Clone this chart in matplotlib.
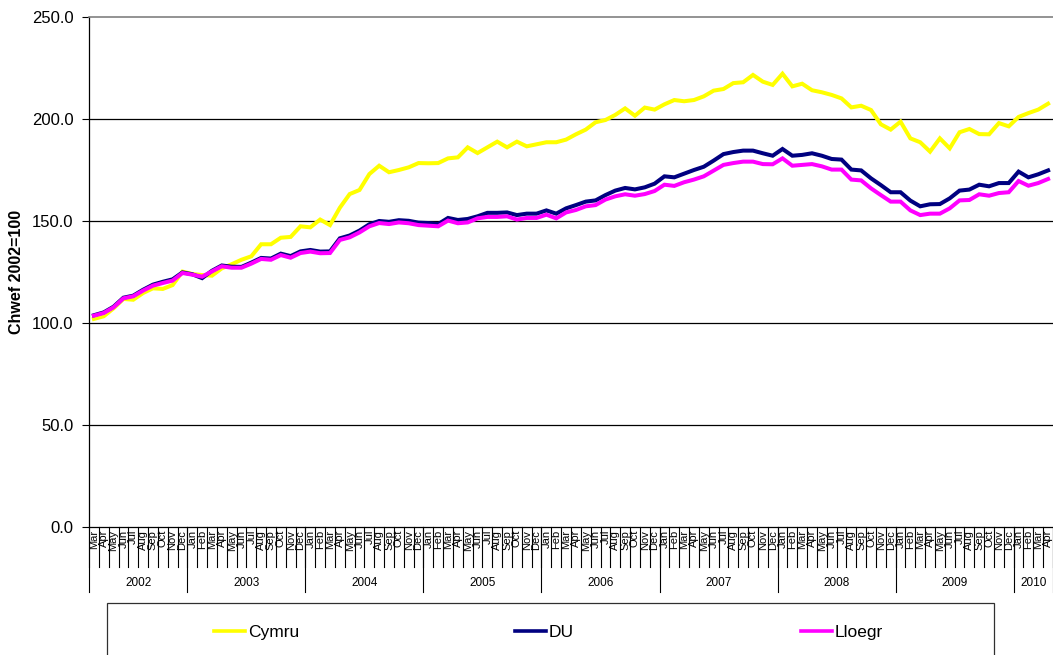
import numpy as np
import matplotlib
matplotlib.use("Agg")
import matplotlib.pyplot as plt
from matplotlib.lines import Line2D
from matplotlib.patches import Rectangle

plt.rcParams['font.family'] = ['Liberation Sans', 'DejaVu Sans']

month_names = ["Jan", "Feb", "Mar", "Apr", "May", "Jun", "Jul", "Aug", "Sep", "Oct", "Nov", "Dec"]
years = ["2002", "2003", "2004", "2005", "2006", "2007", "2008", "2009", "2010"]
months_per_year = [10, 12, 12, 12, 12, 12, 12, 12, 4]
month_labels = month_names[2:] + month_names * 7 + month_names[:4]

cymru = [102.0, 103.3, 107.2, 111.8, 111.4, 114.7, 117.0, 116.7, 118.6, 125.2,
         124.0, 123.5, 123.2, 126.8, 128.8, 131.0, 132.7, 138.6, 138.6, 141.8,
         142.2, 147.4, 146.9, 150.7, 148.0, 156.5, 163.2, 165.2, 173.0, 177.1,
         173.9, 175.0, 176.3, 178.4, 178.3,
         178.4, 180.7, 181.2, 186.1, 183.3, 186.1, 188.9, 186.1, 188.9, 186.6,
         187.6, 188.6, 188.6, 189.9, 192.5, 194.8, 198.4, 199.5, 202.0, 205.2,
         201.6, 205.6, 204.6, 207.2, 209.3, 208.7, 209.3, 211.1, 213.9, 214.7,
         217.6, 218.0, 221.6, 218.3,
         216.7, 222.2, 216.0, 217.3, 214.1, 213.1, 211.8, 210.1, 205.7, 206.5,
         204.4, 197.4, 194.8, 198.7, 190.5, 188.6, 184.0, 190.5, 185.6, 193.5,
         195.1, 192.6, 192.5, 198.0, 196.4, 201.0, 202.9, 204.6, 207.5]

du = [103.8, 105.2, 108.0, 112.4, 113.4, 116.3, 118.8, 120.2, 121.4, 124.8,
      123.9, 122.0, 125.6, 128.2, 127.6, 127.5, 129.6, 131.9, 131.6, 134.0,
      132.8, 135.1, 135.8, 135.0, 135.1, 141.5, 142.9, 145.3, 148.4, 150.0,
      149.6, 150.4, 150.1, 149.2, 149.0,
      148.5, 151.5, 150.5, 151.0, 152.3, 154.0, 154.0, 154.2, 152.9, 153.6,
      153.6, 155.2, 153.6, 156.2, 157.8, 159.5, 160.1, 162.7, 164.9, 166.2,
      165.5, 166.5, 168.3, 171.9, 171.4, 173.2, 175.0, 176.6, 179.6, 182.8,
      183.8, 184.5, 184.5, 183.2,
      182.0, 185.3, 182.0, 182.4, 183.2, 182.0, 180.4, 180.1, 175.2, 174.8,
      170.9, 167.6, 164.1, 164.1, 160.0, 157.2, 158.2, 158.3, 161.1, 164.9,
      165.4, 167.8, 167.0, 168.6, 168.6, 174.2, 171.4, 172.9, 174.8]

lloegr = [103.6, 104.9, 107.7, 112.1, 113.1, 115.9, 118.3, 119.6, 120.8, 124.5,
          123.7, 122.7, 125.3, 127.8, 127.1, 127.1, 129.1, 131.4, 131.0, 133.3,
          132.0, 134.3, 135.0, 134.2, 134.3, 140.7, 142.0, 144.4, 147.4, 149.0,
          148.5, 149.3, 148.9, 148.0, 147.7,
          147.4, 150.2, 148.9, 149.3, 151.3, 152.0, 152.0, 152.3, 150.7, 151.5,
          151.5, 153.1, 151.3, 154.2, 155.4, 157.2, 157.8, 160.5, 162.1, 163.1,
          162.4, 163.2, 164.7, 167.8, 167.2, 169.0, 170.3, 171.9, 174.7, 177.5,
          178.4, 179.1, 179.1, 177.9,
          177.8, 180.7, 177.1, 177.5, 177.9, 176.8, 175.2, 175.2, 170.3, 169.9,
          166.0, 162.7, 159.5, 159.5, 155.2, 152.9, 153.6, 153.6, 156.2, 160.1,
          160.3, 163.1, 162.4, 163.7, 164.1, 169.6, 167.3, 168.6, 170.6]

series_names = ["Cymru", "DU", "Lloegr"]
series_colors = ["#FFFF00", "#000080", "#FF00FF"]
y_ticks = [0, 50, 100, 150, 200, 250]

W, H = 1053, 655
fig = plt.figure(figsize=(W / 100, H / 100), dpi=100)
ax = fig.add_axes([89 / W, (H - 527) / H, (W - 89) / W, 510 / H])

x = np.arange(len(month_labels))
lines = []
for vals, name, col in zip([cymru, du, lloegr], series_names, series_colors):
    ln, = ax.plot(x, vals, color=col, lw=2.9, solid_joinstyle='miter', label=name, zorder=3)
    lines.append(ln)

ax.set_xlim(-0.5, len(month_labels) - 0.5)
ax.set_ylim(0, 250)
ax.set_yticks(y_ticks)
ax.set_yticklabels([f"{v:.1f}" for v in y_ticks])
ax.tick_params(axis='y', direction='out', length=5, width=0.8, pad=6, labelsize=12, colors='black')
ax.set_xticks(x)
ax.set_xticklabels(month_labels, rotation=90, fontsize=8)
ax.tick_params(axis='x', length=0, pad=2)

for v in y_ticks[1:-1]:
    ax.axhline(v, color='black', lw=0.9, zorder=1)

ax.spines['right'].set_visible(False)
ax.spines['top'].set_color('#808080')
ax.spines['top'].set_linewidth(1.2)
ax.spines['left'].set_linewidth(0.9)
ax.spines['bottom'].set_linewidth(0.9)

trans = ax.get_xaxis_transform()
h_month = 40 / 510
h_year = 65 / 510
year_starts = np.concatenate([[0], np.cumsum(months_per_year)]) - 0.5
for b in np.arange(len(month_labels) + 1) - 0.5:
    ax.plot([b, b], [0, -h_month], transform=trans, clip_on=False, color='black', lw=0.8)
for b in year_starts:
    ax.plot([b, b], [0, -h_year], transform=trans, clip_on=False, color='black', lw=0.8)
for i, yr in enumerate(years):
    c = (year_starts[i] + year_starts[i + 1]) / 2
    ax.text(c, -56 / 510, yr, transform=trans, ha='center', va='center', fontsize=8.5)

fig.text(17 / W, 1 - 272 / H, "Chwef 2002=100", rotation=90, ha='center', va='center',
         fontsize=11.5, fontweight='bold')

# legend box
fig.patches.append(Rectangle((107 / W, -0.05), (994 - 107) / W, (H - 603) / H + 0.05,
                             transform=fig.transFigure, fill=False, edgecolor='#303030', lw=0.9))
leg_x = [214, 515, 801]
for ln, lx in zip(lines, leg_x):
    h = Line2D([], [], color=ln.get_color(), lw=2.6)
    fig.legend([h], [ln.get_label()], loc='center left', bbox_to_anchor=(lx / W, 1 - 632 / H),
               frameon=False, fontsize=12.5, handlelength=1.8, handletextpad=0.15,
               borderpad=0, borderaxespad=0)

fig.savefig("out.png", dpi=100)
